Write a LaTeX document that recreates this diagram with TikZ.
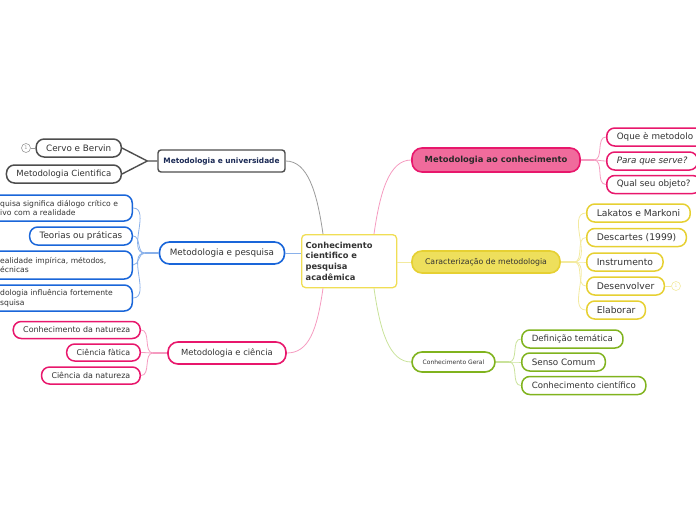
\documentclass[tikz,border=0pt]{standalone}
\usepackage{fontspec}
\setmainfont{DejaVu Sans}
\usetikzlibrary{positioning,calc}
\definecolor{txt}{HTML}{333333}
\definecolor{mmnavy}{HTML}{1B2A55}
\definecolor{mmgrey}{HTML}{4D4D4D}
\definecolor{greylink}{HTML}{9A9A9A}
\definecolor{mmblue}{HTML}{1A66D9}
\definecolor{bluelink}{HTML}{8AB1EA}
\definecolor{mmpink}{HTML}{E8176C}
\definecolor{pinkfill}{HTML}{F06B9C}
\definecolor{pinklink}{HTML}{F59BC0}
\definecolor{mmyellow}{HTML}{E6D032}
\definecolor{yellowfill}{HTML}{EEDF5C}
\definecolor{yellowlink}{HTML}{F3EA9F}
\definecolor{mmgreen}{HTML}{80B31E}
\definecolor{greenlink}{HTML}{C9E29A}
\definecolor{rootline}{HTML}{F0DE55}
\tikzset{
every node/.style={font=\fontsize{8.8}{10.6}\selectfont, text=txt},
root/.style={draw=rootline, fill=white, line width=1.3, rounded corners=4, anchor=north west,
    align=left, font=\bfseries\fontsize{8.3}{10.7}\selectfont},
branch/.style={draw=#1, fill=white, line width=1.6, rounded corners=10, minimum height=22, inner xsep=10},
leaf/.style={draw=#1, fill=white, line width=1.5, rounded corners=8, minimum height=18, inner xsep=10, inner ysep=2},
longleaf/.style={leaf=mmblue, anchor=east, text width=119, align=left, inner xsep=13, inner ysep=1,
    font=\fontsize{7.6}{9.6}\selectfont},
small/.style={font=\fontsize{7.9}{9.5}\selectfont},
large/.style={font=\fontsize{9.2}{11}\selectfont},
badge/.style={circle, draw=#1, line width=0.6, minimum size=9, inner sep=0pt, text=#1,
    font=\fontsize{5}{5}\selectfont},
link/.style={line width=0.8, #1},
}

\begin{document}
\begin{tikzpicture}[x=1pt, y=-1pt]
    \useasboundingbox (0,0) rectangle (696,520);

    % central topic
    \node[root, minimum width=95, minimum height=53, text width=87, inner xsep=4] (Cen) at (301,234)
        {Conhecimento\\cientifico e\\pesquisa\\acadêmica};

    % left side
    \node[draw=mmgrey, fill=white, line width=1.4, rounded corners=3, minimum width=127, minimum height=22,
        inner xsep=4, text=mmnavy, font=\bfseries\fontsize{7.4}{9}\selectfont] (MU) at (221.5,161)
        {Metodologia e universidade};
    \node[leaf=mmgrey, anchor=east] (Cervo) at (122,148) {Cervo e Bervin};
    \node[leaf=mmgrey, anchor=east, font=\fontsize{8.5}{10}\selectfont] (MetC) at (122,174) {Metodologia Cientifica};
    \node[badge=greylink] (B1) at (26,148) {1};

    \node[branch=mmblue, minimum width=125] (MP) at (222,253) {Metodologia e pesquisa};
    \node[longleaf, minimum height=26] (P1) at (133,208)
        {quisa significa diálogo crítico e\\ivo com a realidade};
    \node[leaf=mmblue, anchor=east] (P2) at (133,236) {Teorias ou práticas};
    \node[longleaf, minimum height=28] (P3) at (133,265)
        {ealidade impírica, métodos,\\écnicas};
    \node[longleaf, minimum height=26] (P4) at (133,298)
        {dologia influência fortemente\\squisa};

    \node[branch=mmpink, minimum width=118, font=\fontsize{8.4}{10}\selectfont] (MC) at (227,353) {Metodologia e ciência};
    \node[leaf=mmpink, anchor=east, minimum height=17, small] (C1) at (141,330) {Conhecimento da natureza};
    \node[leaf=mmpink, anchor=east, minimum height=17, small] (C2) at (141,352.5) {Ciência fàtica};
    \node[leaf=mmpink, anchor=east, minimum height=17, small] (C3) at (141,375.5) {Ciência da natureza};

    % right side
    \node[branch=mmpink, fill=pinkfill, minimum width=168, minimum height=24, text=txt!80!black,
        font=\bfseries\fontsize{8.4}{10}\selectfont] (MA) at (496,160) {Metodologia ao conhecimento};
    \node[leaf=mmpink, anchor=west, minimum width=120, align=left, text width=100] (A1) at (606,137) {Oque è metodolo};
    \node[leaf=mmpink, anchor=west, font=\itshape\fontsize{8.8}{10.6}\selectfont] (A2) at (606,161) {Para que serve?};
    \node[leaf=mmpink, anchor=west] (A3) at (606,184.5) {Qual seu objeto?};

    \node[branch=mmyellow, fill=yellowfill, minimum width=148, font=\fontsize{7.8}{9}\selectfont] (CM) at (486,262)
        {Caracterização de metodologia};
    \node[leaf=mmyellow, anchor=west, large] (Y1) at (586,213) {Lakatos e Markoni};
    \node[leaf=mmyellow, anchor=west, large] (Y2) at (586,237.5) {Descartes (1999)};
    \node[leaf=mmyellow, anchor=west, large] (Y3) at (586,262) {Instrumento};
    \node[leaf=mmyellow, anchor=west, large] (Y4) at (586,286) {Desenvolver};
    \node[leaf=mmyellow, anchor=west, large] (Y5) at (586,310) {Elaborar};
    \node[badge=yellowlink] (B2) at (676,286) {1};

    \node[branch=mmgreen, minimum width=83, minimum height=20, font=\fontsize{6}{7}\selectfont] (CG) at (453.5,362)
        {Conhecimento Geral};
    \node[leaf=mmgreen, anchor=west, font=\fontsize{8.6}{10}\selectfont] (G1) at (521,339) {Definição temática};
    \node[leaf=mmgreen, anchor=west] (G2) at (521,362) {Senso Comum};
    \node[leaf=mmgreen, anchor=west, font=\fontsize{8.6}{10}\selectfont] (G3) at (521,385.5) {Conhecimento científico};

    % links from the central topic
    \coordinate (CenTL) at ($(Cen.north west)+(22,0)$);
    \coordinate (CenTR) at ($(Cen.north west)+(73,0)$);
    \coordinate (CenBL) at ($(Cen.south west)+(22,0)$);
    \coordinate (CenBR) at ($(Cen.south west)+(73,0)$);
    \draw[link=greylink] (MU.east) .. controls +(22,0) and +(-6,-42) .. (CenTL);
    \draw[link=bluelink] (MP.east) -- (MP.east -| Cen.west);
    \draw[link=pinklink] (MC.east) .. controls +(22,0) and +(-6,42) .. (CenBL);
    \draw[link=pinklink] (CenTR) .. controls +(6,-42) and +(-22,0) .. (MA.west);
    \draw[link=yellowlink] (CM.west -| Cen.east) -- (CM.west);
    \draw[link=greenlink] (CenBR) .. controls +(6,42) and +(-22,0) .. (CG.west);

    % links to the leaves
    \coordinate (MUj) at ($(MU.west)+(-10,0)$);
    \draw[line width=1.4, mmgrey] (MU.west) -- (MUj) -- (Cervo.east);
    \draw[line width=1.4, mmgrey] (MUj) -- (MetC.east);
    \draw[link=greylink] (B1) -- (Cervo.west);

    \coordinate (MPj) at ($(MP.west)+(-14,0)$);
    \draw[link=bluelink, line width=1.4] (MP.west) -- (MPj);
    \foreach \n in {P1,P2,P3,P4}
        \draw[link=bluelink] (MPj) to[out=180, in=0] (\n.east);

    \coordinate (MCj) at ($(MC.west)+(-14,0)$);
    \draw[link=pinklink, line width=1.4] (MC.west) -- (MCj);
    \foreach \n in {C1,C2,C3}
        \draw[link=pinklink] (MCj) to[out=180, in=0] (\n.east);

    \coordinate (MAj) at ($(MA.east)+(13,0)$);
    \draw[link=pinklink, line width=1.4] (MA.east) -- (MAj);
    \foreach \n in {A1,A2,A3}
        \draw[link=pinklink] (MAj) to[out=0, in=180] (\n.west);

    \coordinate (CMj) at ($(CM.east)+(13,0)$);
    \draw[link=yellowlink, line width=1.4] (CM.east) -- (CMj);
    \foreach \n in {Y1,Y2,Y3,Y4,Y5}
        \draw[link=yellowlink] (CMj) to[out=0, in=180] (\n.west);
    \draw[link=yellowlink] (Y4.east) -- (B2);

    \coordinate (CGj) at ($(CG.east)+(13,0)$);
    \draw[link=greenlink, line width=1.4] (CG.east) -- (CGj);
    \foreach \n in {G1,G2,G3}
        \draw[link=greenlink] (CGj) to[out=0, in=180] (\n.west);
\end{tikzpicture}
\end{document}
